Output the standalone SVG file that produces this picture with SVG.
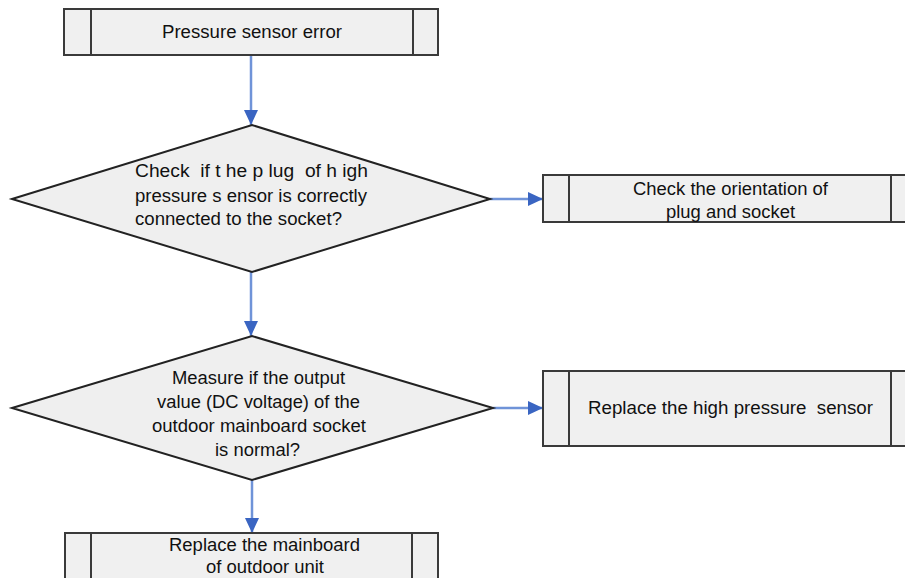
<svg xmlns="http://www.w3.org/2000/svg" width="905" height="578" viewBox="0 0 905 578">
<style>
.box{fill:#f0f0f0;stroke:#3a3a3a;stroke-width:2}
.bar{stroke:#3a3a3a;stroke-width:2}
.dia{fill:#efefef;stroke:#222;stroke-width:2}
.t{font-family:"Liberation Sans",Arial,sans-serif;font-size:17.5px;fill:#111;white-space:pre}
.c{stroke:#6f93d8;stroke-width:2.5;fill:none}
</style>
<defs>
<marker id="ah" markerUnits="userSpaceOnUse" markerWidth="16" markerHeight="16" refX="15" refY="7" orient="auto" viewBox="0 0 16 14">
<path d="M0,0 L15,7 L0,14 Z" fill="#3a65c2"/>
</marker>
</defs>
<rect width="905" height="578" fill="#fff"/>
<g id="connectors">
<line class="c" x1="251" y1="55" x2="251" y2="125" marker-end="url(#ah)"/>
<line class="c" x1="251" y1="272" x2="251" y2="336" marker-end="url(#ah)"/>
<line class="c" x1="490" y1="199" x2="543" y2="199" marker-end="url(#ah)"/>
<line class="c" x1="493" y1="408" x2="543" y2="408" marker-end="url(#ah)"/>
<line class="c" x1="252" y1="480" x2="252" y2="533" marker-end="url(#ah)"/>
</g>
<g id="start">
<rect class="box" x="64" y="9" width="374" height="46"/>
<line class="bar" x1="91" y1="9" x2="91" y2="55"/>
<line class="bar" x1="413" y1="9" x2="413" y2="55"/>
<text class="t" x="162" y="38" textLength="180" lengthAdjust="spacingAndGlyphs">Pressure sensor error</text>
</g>
<g id="decision1">
<polygon class="dia" points="12,199 252,125 490,199 252,272"/>
<text class="t" x="135" y="177" textLength="233" lengthAdjust="spacingAndGlyphs">Check  if t he p lug  of h igh</text>
<text class="t" x="135" y="202" textLength="232" lengthAdjust="spacingAndGlyphs">pressure s ensor is correctly</text>
<text class="t" x="135" y="225" textLength="207" lengthAdjust="spacingAndGlyphs">connected to the socket?</text>
</g>
<g id="orientation">
<rect class="box" x="543" y="175" width="374" height="47"/>
<line class="bar" x1="569" y1="175" x2="569" y2="222"/>
<line class="bar" x1="891" y1="175" x2="891" y2="222"/>
<text class="t" x="633" y="195" textLength="195" lengthAdjust="spacingAndGlyphs">Check the orientation of</text>
<text class="t" x="666" y="218" textLength="129" lengthAdjust="spacingAndGlyphs">plug and socket</text>
</g>
<g id="decision2">
<polygon class="dia" points="12,408 252,336 493,408 252,480"/>
<text class="t" x="172" y="384" textLength="173" lengthAdjust="spacingAndGlyphs">Measure if the output</text>
<text class="t" x="157" y="408" textLength="203" lengthAdjust="spacingAndGlyphs">value (DC voltage) of the</text>
<text class="t" x="152" y="432" textLength="214" lengthAdjust="spacingAndGlyphs">outdoor mainboard socket</text>
<text class="t" x="215" y="456" textLength="85" lengthAdjust="spacingAndGlyphs">is normal?</text>
</g>
<g id="replace-sensor">
<rect class="box" x="543" y="371" width="374" height="75"/>
<line class="bar" x1="569" y1="371" x2="569" y2="446"/>
<line class="bar" x1="891" y1="371" x2="891" y2="446"/>
<text class="t" x="588" y="414" textLength="285" lengthAdjust="spacingAndGlyphs">Replace the high pressure  sensor</text>
</g>
<g id="replace-mainboard">
<rect class="box" x="65" y="533" width="373" height="70"/>
<line class="bar" x1="91" y1="533" x2="91" y2="603"/>
<line class="bar" x1="412" y1="533" x2="412" y2="603"/>
<text class="t" x="169" y="551" textLength="191" lengthAdjust="spacingAndGlyphs">Replace the mainboard</text>
<text class="t" x="206" y="573" textLength="118" lengthAdjust="spacingAndGlyphs">of outdoor unit</text>
</g>
</svg>
